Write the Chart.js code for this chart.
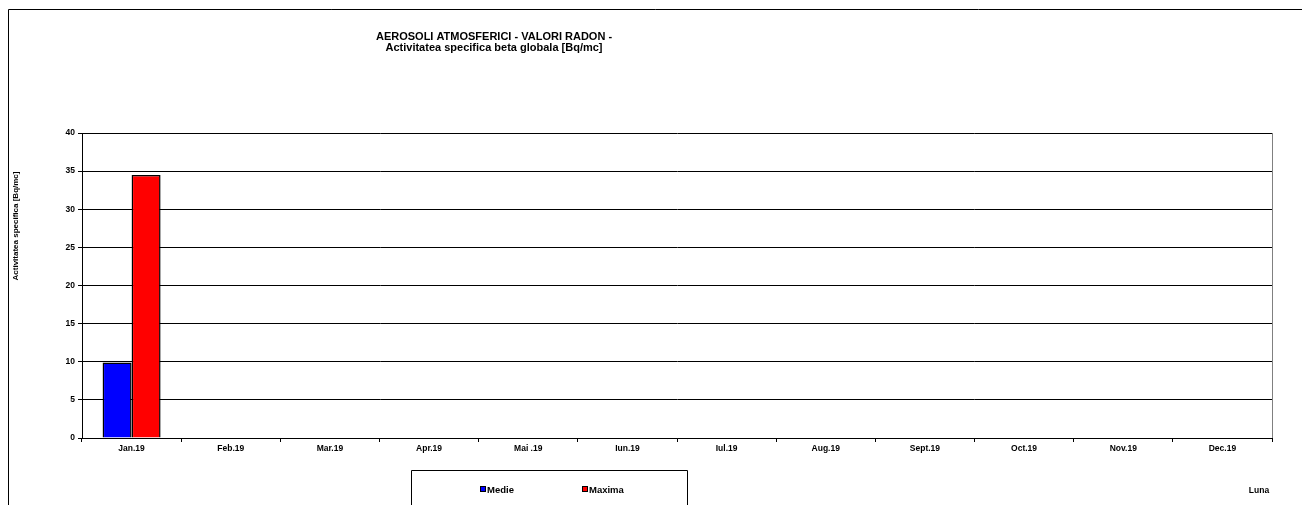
<!DOCTYPE html>
<html>
<head>
<meta charset="utf-8">
<script src="https://cdn.jsdelivr.net/npm/chart.js@4/dist/chart.umd.min.js"></script>
<style>
  html, body { margin: 0; padding: 0; background: #fff; }
  #wrap { width: 1302px; height: 505px; }
</style>
</head>
<body>
<div id="wrap"><canvas id="chart-radon" width="1302" height="505"></canvas></div>
<script>
// chart data
var months = ['Jan.19', 'Feb.19', 'Mar.19', 'Apr.19', 'Mai .19', 'Iun.19', 'Iul.19', 'Aug.19', 'Sept.19', 'Oct.19', 'Nov.19', 'Dec.19'];
var medie = [9.9, null, null, null, null, null, null, null, null, null, null, null];
var maxima = [34.5, null, null, null, null, null, null, null, null, null, null, null];
var titleLines = ['AEROSOLI ATMOSFERICI - VALORI RADON -', 'Activitatea specifica beta globala [Bq/mc]'];

var fontName = '"Liberation Sans", Arial, sans-serif';

// frame, titles and legend box drawn like the original sheet
var decor = {
    id: 'decor',
    afterDraw: function (chart) {
        var c = chart.ctx;
        var a = chart.chartArea;
        c.save();
        // outer frame
        c.strokeStyle = '#000';
        c.lineWidth = 1;
        c.beginPath();
        c.moveTo(8.5, 505);
        c.lineTo(8.5, 9.5);
        c.lineTo(1302, 9.5);
        c.stroke();
        // right edge of plot area
        c.strokeStyle = '#808080';
        c.beginPath();
        c.moveTo(Math.round(a.right) + 0.5, a.top);
        c.lineTo(Math.round(a.right) + 0.5, a.bottom);
        c.stroke();

        // title
        c.fillStyle = '#000';
        c.font = 'bold 11px ' + fontName;
        c.textAlign = 'center';
        c.textBaseline = 'middle';
        c.fillText(titleLines[0], 494, 37);
        c.fillText(titleLines[1], 494, 48);

        // y axis title
        c.font = 'bold 8px ' + fontName;
        c.translate(16, 226);
        c.rotate(-Math.PI / 2);
        c.fillText('Activitatea specifica [Bq/mc]', 0, 0);
        c.setTransform(1, 0, 0, 1, 0, 0);

        // x axis title
        c.font = 'bold 8.5px ' + fontName;
        c.fillText('Luna', 1259, 491);

        // legend box
        c.strokeStyle = '#000';
        c.beginPath();
        c.moveTo(411.5, 505);
        c.lineTo(411.5, 470.5);
        c.lineTo(687.5, 470.5);
        c.lineTo(687.5, 505);
        c.stroke();
        var items = chart.data.datasets;
        var xs = [480, 582];
        c.font = 'bold 9.5px ' + fontName;
        c.textAlign = 'left';
        for (var i = 0; i < items.length; i++) {
            c.fillStyle = items[i].backgroundColor;
            c.fillRect(xs[i], 486, 6, 6);
            c.strokeStyle = '#000';
            c.strokeRect(xs[i] + 0.5, 486.5, 5, 5);
            c.fillStyle = '#000';
            c.fillText(items[i].label, xs[i] + 7, 490);
        }
        c.restore();
    }
};

var ctx = document.getElementById('chart-radon').getContext('2d');
var chart = new Chart(ctx, {
    type: 'bar',
    data: {
        labels: months,
        datasets: [{
            label: 'Medie',
            data: medie,
            backgroundColor: '#0000ff',
            borderColor: '#000',
            borderWidth: 1.5
        }, {
            label: 'Maxima',
            data: maxima,
            backgroundColor: '#ff0000',
            borderColor: '#000',
            borderWidth: 1.5
        }]
    },
    options: {
        responsive: false,
        animation: false,
        layout: {
            padding: { left: 52, right: 30, top: 133, bottom: 0 }
        },
        datasets: {
            bar: { categoryPercentage: 0.585, barPercentage: 1 }
        },
        plugins: {
            legend: { display: false },
            title: { display: false },
            tooltip: { enabled: false }
        },
        scales: {
            x: {
                offset: true,
                grid: {
                    offset: true,
                    drawOnChartArea: false,
                    drawTicks: true,
                    tickLength: 4,
                    color: '#000'
                },
                border: { color: '#000', width: 1 },
                ticks: {
                    color: '#000',
                    font: { family: fontName, size: 8.5, weight: 'bold' },
                    maxRotation: 0,
                    padding: 2
                },
                afterFit: function (scale) { scale.height = 67; }
            },
            y: {
                min: 0,
                max: 40,
                ticks: {
                    stepSize: 5,
                    color: '#000',
                    font: { family: fontName, size: 8.5, weight: 'bold' },
                    padding: 3
                },
                grid: {
                    color: '#000',
                    tickLength: 4
                },
                border: { color: '#000', width: 1 },
                afterFit: function (scale) { scale.width = 30; }
            }
        }
    },
    plugins: [decor]
});
</script>
</body>
</html>
